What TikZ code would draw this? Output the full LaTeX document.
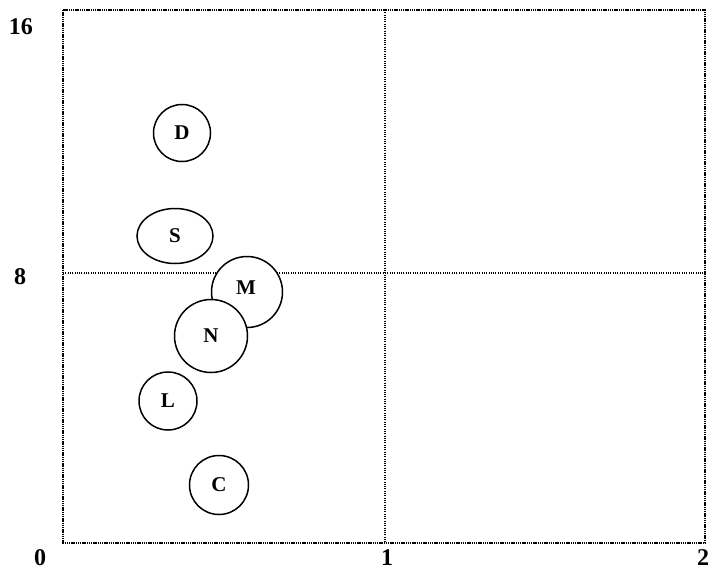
\documentclass[tikz,border=0pt]{standalone}
\usepackage{fontspec}
\setmainfont{Liberation Serif}
\usetikzlibrary{shapes.geometric}
\begin{document}
\begin{tikzpicture}[x=1pt,y=-1pt,
  frameline/.style={line width=2pt,dash pattern=on 1.4pt off 0.8pt},
  midline/.style={line width=1.3pt,dash pattern=on 1pt off 1.3pt},
  ring/.style={circle,draw,line width=1.5pt,fill=white,inner sep=0pt,font=\fontsize{21}{23}\selectfont\bfseries},
  oval/.style={ellipse,draw,line width=1.5pt,fill=white,inner sep=0pt,font=\fontsize{21}{23}\selectfont\bfseries},
  axlab/.style={font=\fontsize{24}{26}\selectfont\bfseries,inner sep=0pt}]
\useasboundingbox (0,0) rectangle (711,572);
\coordinate (tl) at (63,10);
\coordinate (br) at (705,543);
\coordinate (mt) at (385,10);
\coordinate (mb) at (385,543);
\coordinate (ml) at (63,273);
\coordinate (mr) at (705,273);
\draw[midline] (mt) -- (mb);
\draw[midline] (ml) -- (mr);
\draw[frameline] (tl) rectangle (br);
\node[axlab] (y16) at (21,27) {16};
\node[axlab] (y8) at (20,277) {8};
\node[axlab] (x0) at (40,558) {0};
\node[axlab] (x1) at (387,558) {1};
\node[axlab] (x2) at (703,558) {2};
\node[ring,minimum size=57pt] (D) at (182,133) {D};
\node[oval,minimum width=76pt,minimum height=55pt] (S) at (175,236) {S};
\node[ring,minimum size=71pt] (M) at (247,292) {};
\node[ring,minimum size=73pt] (N) at (211,336) {N};
\node[font=\fontsize{21}{23}\selectfont\bfseries] (Mlab) at (246,288) {M};
\node[ring,minimum size=58pt] (L) at (168,401) {L};
\node[ring,minimum size=59pt] (C) at (219,485) {C};
\end{tikzpicture}
\end{document}
